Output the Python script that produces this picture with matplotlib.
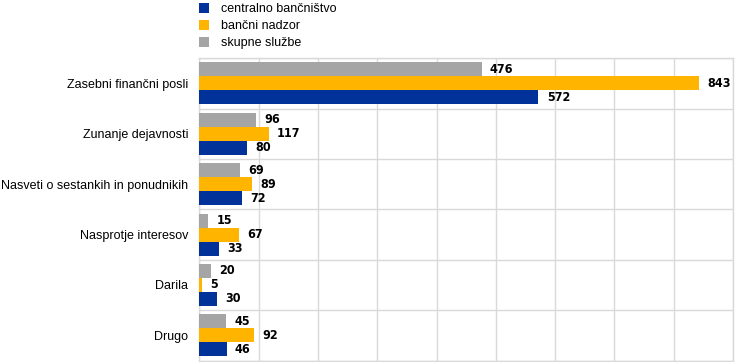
import matplotlib
matplotlib.use("Agg")
import matplotlib.pyplot as plt
from matplotlib.patches import Patch
import numpy as np

categories = ["Zasebni finančni posli", "Zunanje dejavnosti", "Nasveti o sestankih in ponudnikih",
              "Nasprotje interesov", "Darila", "Drugo"]
series_names = ["centralno bančništvo", "bančni nadzor", "skupne službe"]
centralno = [572, 80, 72, 33, 30, 46]
nadzor = [843, 117, 89, 67, 5, 92]
skupne = [476, 96, 69, 15, 20, 45]
colors = ["#003299", "#FFB400", "#A5A5A5"]

plt.rcParams['font.family'] = ['Liberation Sans', 'DejaVu Sans']

fig = plt.figure(figsize=(7.44, 3.62), dpi=100)
ax = fig.add_axes([199.3/744, 1.5/362, (733.0-199.3)/744, (360.5-58.3)/362])

n = len(categories)
y = np.arange(n)
h = 0.278
offsets = [h, 0, -h]  # centralno bottom, nadzor middle, skupne top (y inverted)
data = [centralno, nadzor, skupne]
for vals, off, c in zip(data, offsets, colors):
    bars = ax.barh(y + off, vals, height=h, color=c, zorder=3)
    for b, v in zip(bars, vals):
        ax.annotate(str(v), (b.get_width(), b.get_y() + b.get_height()/2),
                    xytext=(6, 0), textcoords="offset points", va="center", ha="left",
                    fontsize=9, fontweight="bold", fontstretch="condensed",
                    family="DejaVu Sans", zorder=4)

ax.set_xlim(0, 900)
ax.set_ylim(n - 0.5, -0.5)
ax.set_xticks(np.arange(0, 901, 100))
ax.set_xticklabels([])
ax.tick_params(axis='x', length=0)
ax.set_yticks(y)
ax.set_yticklabels(categories, fontsize=9)
ax.set_yticks(np.arange(-0.5, n, 1), minor=True)
ax.tick_params(axis='y', which='both', length=0, pad=8)
ax.grid(True, axis='x', color="#D9D9D9", linewidth=1.0, zorder=0)
ax.grid(True, axis='y', which='minor', color="#D9D9D9", linewidth=1.0, zorder=0)
ax.grid(False, axis='y', which='major')
for s in ax.spines.values():
    s.set_color("#D9D9D9")
    s.set_linewidth(1.0)

handles = [Patch(facecolor=c, edgecolor='none') for c in colors]
fig.legend(handles, series_names, loc="upper left", bbox_to_anchor=(199/744, 1 - 3/362),
           frameon=False, fontsize=9, handlelength=0.8, handleheight=0.8,
           handletextpad=0.95, labelspacing=0.4, borderpad=0, borderaxespad=0)

fig.savefig("out.png", dpi=100)
